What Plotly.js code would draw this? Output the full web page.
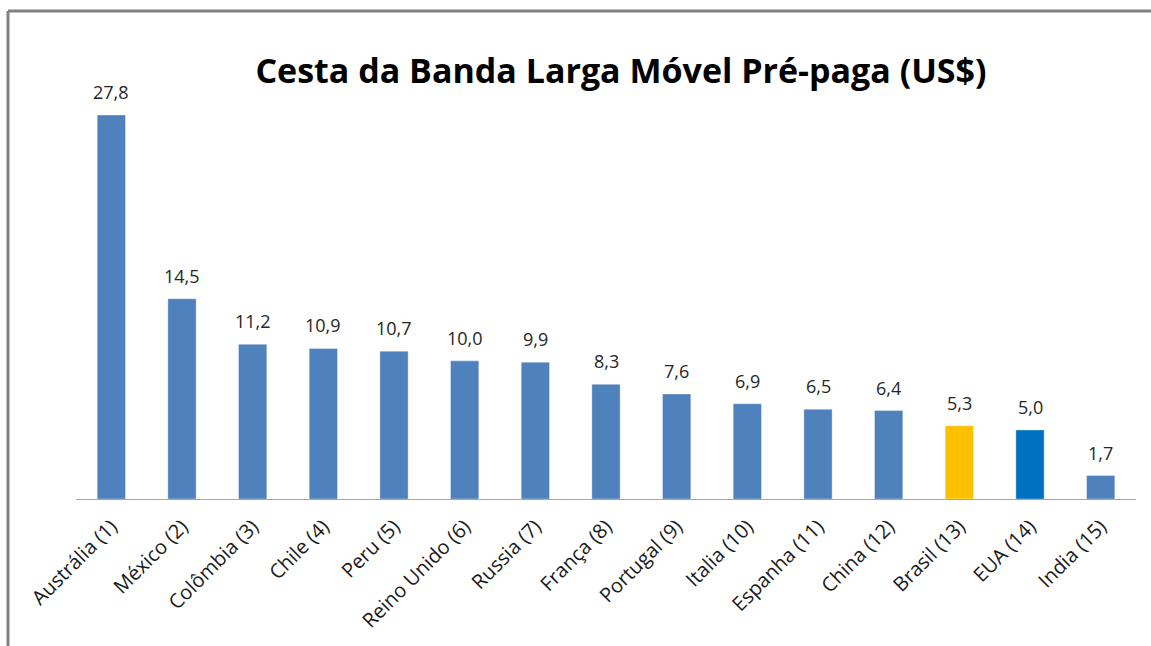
<!DOCTYPE html>
<html>
<head>
<meta charset="utf-8">
<script src="https://cdn.plot.ly/plotly-3.0.1.min.js"></script>
<style>
html,body{margin:0;padding:0;background:#fff;}
#chart{width:1151px;height:646px;}
</style>
</head>
<body>
<div id="chart"></div>
<script>
const categories = ["Austrália (1)","México (2)","Colômbia (3)","Chile (4)","Peru (5)","Reino Unido (6)","Russia (7)","França (8)","Portugal (9)","Italia (10)","Espanha (11)","China (12)","Brasil (13)","EUA (14)","India (15)"];
const values = [27.8,14.5,11.2,10.9,10.7,10.0,9.9,8.3,7.6,6.9,6.5,6.4,5.3,5.0,1.7];
const barColors = ["#4F81BD","#4F81BD","#4F81BD","#4F81BD","#4F81BD","#4F81BD","#4F81BD","#4F81BD","#4F81BD","#4F81BD","#4F81BD","#4F81BD","#FFC000","#0070C0","#4F81BD"];
const titleText = "Cesta da Banda Larga Móvel Pré-paga (US$)";

const W = 1151, H = 646;
const mL = 76, mR = 15, mT = 60, mB = 147;
const pw = W - mL - mR, ph = H - mT - mB;
const px = v => (v - mL) / pw;
const py = v => (H - mB - v) / ph;

const trace = {
  type: 'bar',
  x: categories,
  y: values,
  width: 0.4,
  marker: {color: barColors, line: {color: 'rgba(255,255,255,0.35)', width: 1}},
  hoverinfo: 'none'
};

const annotations = categories.map((c, i) => ({
  x: c, y: values[i], xref: 'x', yref: 'y',
  text: values[i].toFixed(1).replace('.', ','),
  showarrow: false, yanchor: 'bottom', yshift: 9,
  font: {family: 'Open Sans, sans-serif', size: 18, color: '#262626'}
}));

const layout = {
  width: W, height: H,
  margin: {l: mL, r: mR, t: mT, b: mB, pad: 0},
  paper_bgcolor: '#ffffff', plot_bgcolor: '#ffffff',
  showlegend: false,
  bargap: 0.6,
  title: {
    text: '<b>' + titleText + '</b>',
    font: {family: 'Open Sans, sans-serif', size: 34, color: '#000000'},
    xref: 'paper', x: px(621), xanchor: 'center',
    yref: 'container', y: 1 - 71/646, yanchor: 'middle'
  },
  xaxis: {
    type: 'category',
    tickangle: -45,
    showgrid: false, zeroline: false,
    showline: true, linecolor: '#A6A6A6', linewidth: 1,
    ticks: 'outside', ticklen: 7, tickcolor: 'rgba(0,0,0,0)',
    tickfont: {family: 'Open Sans, sans-serif', size: 20, color: '#1a1a1a'},
    range: [-0.5, 14.5]
  },
  yaxis: {
    range: [0, ph / ((499 - 115) / 27.8)],
    visible: false, showgrid: false, zeroline: false, fixedrange: true
  },
  annotations: annotations,
  shapes: [
    {type: 'line', xref: 'paper', yref: 'paper', x0: px(8), x1: px(1151), y0: py(11), y1: py(11), line: {color: '#808080', width: 3}},
    {type: 'line', xref: 'paper', yref: 'paper', x0: px(8), x1: px(8), y0: py(11), y1: py(646), line: {color: '#808080', width: 3}}
  ]
};

Plotly.newPlot('chart', [trace], layout, {displayModeBar: false, staticPlot: true});
</script>
</body>
</html>
